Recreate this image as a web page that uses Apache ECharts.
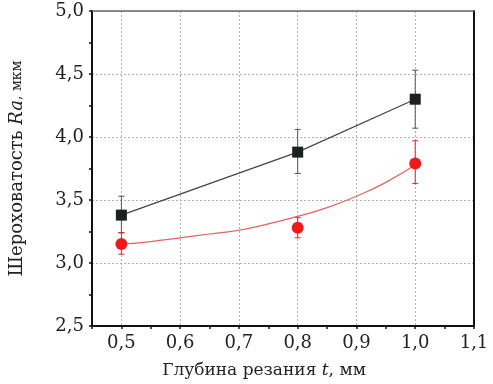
<!DOCTYPE html>
<html>
<head>
<meta charset="utf-8">
<script src="https://cdn.jsdelivr.net/npm/echarts@6/dist/echarts.min.js"></script>
<style>
  html, body { margin: 0; padding: 0; background: #fff; }
  #chart { width: 493px; height: 384px; }
</style>
</head>
<body>
<div id="chart"></div>
<script>
// точки измерений
var depth = [0.5, 0.8, 1.0];
var raBlack = [3.38, 3.88, 4.30];
var raBlackHi = [3.53, 4.06, 4.53];
var raBlackLo = [3.24, 3.71, 4.07];
var raRed = [3.15, 3.28, 3.79];
var raRedHi = [3.24, 3.36, 3.97];
var raRedLo = [3.07, 3.20, 3.63];
// аппроксимирующая кривая
var fitX = [0.5, 0.55, 0.6, 0.65, 0.7, 0.75, 0.8, 0.85, 0.9, 0.95, 1.0];
var fitY = [3.15, 3.17, 3.20, 3.23, 3.26, 3.31, 3.37, 3.44, 3.53, 3.64, 3.78];

var font = 'DejaVu Serif';
var chart = echarts.init(document.getElementById('chart'));

function pairs(xs, ys) {
  return xs.map(function (x, i) { return [x, ys[i]]; });
}
function errData(lo, hi) {
  return depth.map(function (x, i) { return [x, lo[i], hi[i]]; });
}
function errSeries(lo, hi, color) {
  return {
    type: 'custom',
    data: errData(lo, hi),
    z: 1,
    renderItem: function (params, api) {
      var top = api.coord([api.value(0), api.value(2)]);
      var bot = api.coord([api.value(0), api.value(1)]);
      var w = 3;
      var st = { stroke: color, lineWidth: 1 };
      return {
        type: 'group',
        children: [
          { type: 'line', shape: { x1: top[0], y1: top[1], x2: bot[0], y2: bot[1] }, style: st },
          { type: 'line', shape: { x1: top[0] - w, y1: top[1], x2: top[0] + w, y2: top[1] }, style: st },
          { type: 'line', shape: { x1: bot[0] - w, y1: bot[1], x2: bot[0] + w, y2: bot[1] }, style: st }
        ]
      };
    }
  };
}

var option = {
  backgroundColor: '#fff',
  animation: false,
  textStyle: { fontFamily: font },
  grid: { left: 90, top: 11, right: 19, bottom: 58 },
  xAxis: [{
    type: 'value',
    min: 0.45,
    max: 1.1,
    interval: 0.05,
    axisLine: { onZero: false, lineStyle: { color: '#111', width: 2 } },
    axisTick: { length: 3, lineStyle: { color: '#111', width: 1.5 } },
    axisLabel: {
      color: '#222', fontSize: 18, fontFamily: font, margin: 8,
      formatter: function (v) {
        var k = Math.round(v * 100);
        if (k % 10 !== 0) return '';
        return (k / 100).toFixed(1).replace('.', ',');
      }
    },
    splitLine: { show: true, lineStyle: { color: ['rgba(0,0,0,0)', '#b0b0b0'], type: [2, 2], width: 1 } },
    name: '{a|Глубина резания }{i|t}{a|, мм}',
    nameLocation: 'middle',
    nameGap: 36,
    nameTextStyle: {
      padding: [0, 38, 0, 0],
      rich: {
        a: { fontSize: 17, fontFamily: font, color: '#222' },
        i: { fontSize: 17, fontFamily: font, fontStyle: 'italic', color: '#222' }
      }
    }
  }, {
    type: 'value',
    position: 'top',
    min: 0.45,
    max: 1.1,
    axisLine: { show: true, onZero: false, lineStyle: { color: '#666', width: 1.5 } },
    axisTick: { show: false },
    axisLabel: { show: false },
    splitLine: { show: false }
  }],
  yAxis: [{
    type: 'value',
    min: 2.5,
    max: 5,
    interval: 0.5,
    axisLine: { show: true, onZero: false, lineStyle: { color: '#111', width: 2 } },
    axisTick: { show: true, length: 3, lineStyle: { color: '#111', width: 1.5 } },
    minorTick: { show: true, splitNumber: 2, length: 3, lineStyle: { color: '#111', width: 1.5 } },
    axisLabel: {
      color: '#222', fontSize: 18, fontFamily: font, margin: 8,
      formatter: function (v) { return v.toFixed(1).replace('.', ','); }
    },
    splitLine: { show: true, lineStyle: { color: '#b0b0b0', type: [2, 2], width: 1 } },
    name: '{a|Шероховатость }{i|Ra}{s|, мкм}',
    nameLocation: 'middle',
    nameRotate: 90,
    nameGap: 66,
    nameTextStyle: {
      rich: {
        a: { fontSize: 18, fontFamily: font, color: '#222' },
        i: { fontSize: 18, fontFamily: font, fontStyle: 'italic', color: '#222' },
        s: { fontSize: 14, fontFamily: font, color: '#222' }
      }
    }
  }, {
    type: 'value',
    position: 'right',
    min: 2.5,
    max: 5,
    axisLine: { show: true, onZero: false, lineStyle: { color: '#111', width: 2 } },
    axisTick: { show: false },
    axisLabel: { show: false },
    splitLine: { show: false }
  }],
  series: [
    errSeries(raBlackLo, raBlackHi, '#555'),
    errSeries(raRedLo, raRedHi, '#e82020'),
    {
      type: 'line',
      data: pairs(fitX, fitY),
      smooth: true,
      showSymbol: false,
      lineStyle: { color: '#e86060', width: 1.2 },
      z: 2
    },
    {
      type: 'line',
      data: pairs(depth, raBlack),
      symbol: 'rect',
      symbolSize: 11,
      lineStyle: { color: '#444', width: 1.2 },
      itemStyle: { color: '#1b221e' },
      z: 3
    },
    {
      type: 'scatter',
      data: pairs(depth, raRed),
      symbol: 'circle',
      symbolSize: 12,
      itemStyle: { color: '#ee1a1a', opacity: 1 },
      z: 3
    }
  ]
};
chart.setOption(option);
</script>
</body>
</html>
